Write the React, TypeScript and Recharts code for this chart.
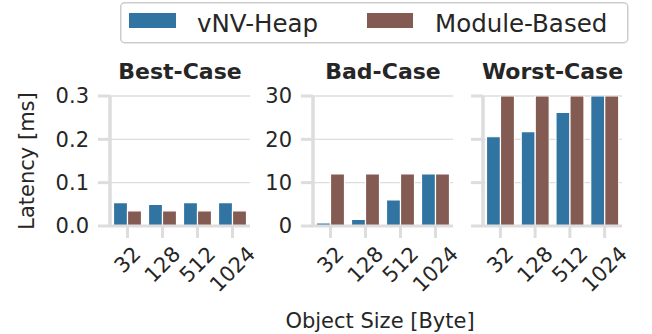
import React from 'react';
import { BarChart, Bar, XAxis, YAxis, CartesianGrid, Label } from 'recharts';

const categories = ['32', '128', '512', '1024'];

const bestHeap = [0.054, 0.05, 0.054, 0.054];
const bestModule = [0.035, 0.035, 0.035, 0.035];
const badHeap = [0.7, 1.5, 6.0, 12.0];
const badModule = [12.0, 12.0, 12.0, 12.0];
const worstHeap = [20.6, 21.8, 26.2, 30];
const worstModule = [30, 30, 30, 30];

const smallTicks = [0, 0.1, 0.2, 0.3];
const bigTicks = [0, 10, 20, 30];

const FONT = 'DejaVu Sans, sans-serif';
const INK = '#262626';
const EDGE = '#dddddd';
const BLUE = '#3274a1';
const BROWN = '#845b53';

const RotatedTick = (props: any) => {
  const { x, y, payload } = props;
  const label = String(payload.value);
  const fs = 21;
  const w = label.length * 0.636 * fs;
  const h = 0.73 * fs;
  const cy = y + 7 + ((w + h) * 0.7071) / 2;
  return (
    <text
      x={x}
      y={cy}
      textAnchor="middle"
      dominantBaseline="central"
      fontSize={fs}
      fontFamily={FONT}
      fill={INK}
      transform={`rotate(-45 ${x} ${cy})`}
    >
      {label}
    </text>
  );
};

const YTitle = (props: any) => {
  const vb = props.viewBox;
  const cy = vb.y + vb.height / 2;
  return (
    <text
      x={27}
      y={cy}
      textAnchor="middle"
      dominantBaseline="central"
      fontSize={21}
      fontFamily={FONT}
      fill={INK}
      transform={`rotate(-90 27 ${cy})`}
    >
      Latency [ms]
    </text>
  );
};

type PanelProps = {
  heap: number[];
  module: number[];
  max: number;
  ticks: number[];
  left: number;
  width: number;
  axisWidth: number;
  right: number;
  fmt: (v: number) => string;
  yLabel?: boolean;
};

const Panel = ({ heap, module, max, ticks, left, width, axisWidth, right, fmt, yLabel }: PanelProps) => {
  const data = categories.map((size, i) => ({ size, heap: heap[i], module: module[i] }));
  return (
    <div style={{ position: 'absolute', left, top: 0 }}>
      <BarChart
        width={width}
        height={334}
        data={data}
        margin={{ top: 96, right, bottom: 0, left: 0 }}
        barCategoryGap="10%"
        barGap={0}
      >
        <CartesianGrid vertical={false} stroke={EDGE} strokeWidth={1.3} />
        <XAxis
          dataKey="size"
          height={108}
          interval={0}
          tickSize={12}
          tickMargin={0}
          axisLine={{ stroke: EDGE, strokeWidth: 3.2 }}
          tickLine={{ stroke: EDGE, strokeWidth: 3 }}
          tick={<RotatedTick />}
        />
        <YAxis
          type="number"
          domain={[0, max]}
          ticks={ticks}
          allowDataOverflow
          width={axisWidth}
          tickSize={12}
          tickMargin={9}
          axisLine={{ stroke: EDGE, strokeWidth: 3.5 }}
          tickLine={{ stroke: EDGE, strokeWidth: 3 }}
          tick={{ fontSize: 21, fontFamily: FONT, fill: INK }}
          tickFormatter={fmt}
        >
          {yLabel && <Label content={<YTitle />} />}
        </YAxis>
        <Bar dataKey="heap" fill={BLUE} stroke="#ffffff" strokeWidth={1.2} isAnimationActive={false} />
        <Bar dataKey="module" fill={BROWN} stroke="#ffffff" strokeWidth={1.2} isAnimationActive={false} />
      </BarChart>
    </div>
  );
};

const titles = [
  { text: 'Best-Case', x: 180 },
  { text: 'Bad-Case', x: 383 },
  { text: 'Worst-Case', x: 552.5 },
];

export default function App() {
  return (
    <div
      style={{
        position: 'absolute',
        left: 0,
        top: 0,
        width: 652,
        height: 334,
        background: '#ffffff',
        fontFamily: FONT,
      }}
    >
      <Panel
        heap={bestHeap}
        module={bestModule}
        max={0.3}
        ticks={smallTicks}
        left={0}
        width={260}
        axisWidth={110}
        right={10}
        fmt={(v) => v.toFixed(1)}
        yLabel
      />
      <Panel
        heap={badHeap}
        module={badModule}
        max={30}
        ticks={bigTicks}
        left={250}
        width={213}
        axisWidth={63}
        right={10}
        fmt={(v) => String(v)}
      />
      <Panel
        heap={worstHeap}
        module={worstModule}
        max={30}
        ticks={bigTicks}
        left={463}
        width={189}
        axisWidth={20}
        right={30}
        fmt={() => ''}
      />
      <svg width={652} height={334} style={{ position: 'absolute', left: 0, top: 0, pointerEvents: 'none' }}>
        {titles.map((t) => (
          <text key={t.text} x={t.x} y={79} textAnchor="middle" fontSize={22} fontWeight="bold" fontFamily={FONT} fill={INK}>
            {t.text}
          </text>
        ))}
        <text x={380} y={328} textAnchor="middle" fontSize={21} fontFamily={FONT} fill={INK}>
          Object Size [Byte]
        </text>
        <rect x={120.75} y={2.75} width={507} height={40} rx={4} fill="#ffffff" stroke="#cccccc" strokeWidth={1.5} />
        <rect x={129} y={13} width={47} height={15} fill={BLUE} />
        <text x={197} y={32} fontSize={24.5} fontFamily={FONT} fill={INK}>vNV-Heap</text>
        <rect x={367} y={13} width={46} height={15} fill={BROWN} />
        <text x={435} y={32} fontSize={24.5} fontFamily={FONT} fill={INK}>Module-Based</text>
      </svg>
    </div>
  );
}
